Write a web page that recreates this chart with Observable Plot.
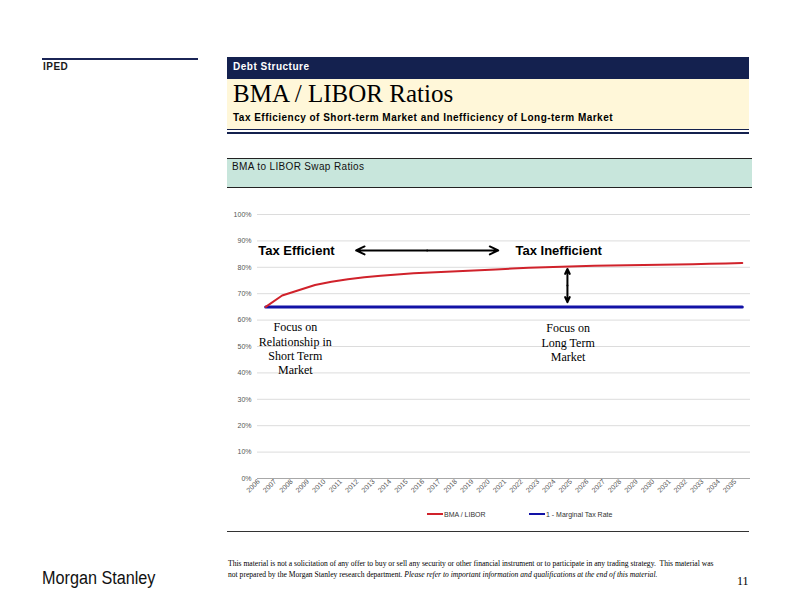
<!DOCTYPE html>
<html>
<head>
<meta charset="utf-8">
<script src="https://cdn.jsdelivr.net/npm/d3@7"></script>
<script src="https://cdn.jsdelivr.net/npm/@observablehq/plot@0.6"></script>
<style>
  html, body { margin: 0; padding: 0; background: #fff; }
  #page { position: relative; width: 792px; height: 612px; overflow: hidden; font-family: "Liberation Sans", Arial, sans-serif; }
  .abs { position: absolute; }
  .serif { font-family: "Liberation Serif", "Times New Roman", serif; }
</style>
</head>
<body>
<div id="page">
  <div class="abs" style="left:42px;top:58px;width:156px;height:2px;background:#1b2556;"></div>
  <div class="abs" style="left:43px;top:61px;font-size:10px;font-weight:bold;color:#1a1a1a;letter-spacing:0.5px;">IPED</div>

  <div class="abs" style="left:227px;top:57px;width:522px;height:22px;background:#14214f;"></div>
  <div class="abs" style="left:233px;top:61px;font-size:10px;font-weight:bold;color:#fff;letter-spacing:0.5px;">Debt Structure</div>
  <div class="abs" style="left:227px;top:79px;width:522px;height:50px;background:#fff7d9;"></div>
  <div class="abs serif" style="left:233px;top:80px;font-size:25px;color:#000;white-space:nowrap;">BMA / LIBOR Ratios</div>
  <div class="abs" style="left:233px;top:112px;font-size:10px;font-weight:bold;color:#000;white-space:nowrap;letter-spacing:0.48px;">Tax Efficiency of Short-term Market and Inefficiency of Long-term Market</div>
  <div class="abs" style="left:227px;top:129px;width:522px;height:1px;background:#14214f;"></div>
  <div class="abs" style="left:227px;top:132px;width:522px;height:2px;background:#14214f;"></div>

  <div class="abs" style="left:227px;top:158px;width:525px;height:28px;background:#c8e6dc;border-top:1px solid #222;border-bottom:1px solid #222;"></div>
  <div class="abs" style="left:232px;top:161px;font-size:10px;color:#111;white-space:nowrap;letter-spacing:0.35px;">BMA to LIBOR Swap Ratios</div>

  <div id="chart" class="abs" style="left:227px;top:200px;"></div>

  <div id="legend" class="abs" style="left:0;top:508px;width:792px;height:12px;font-size:7px;color:#333;"></div>
  <div class="abs" style="left:227px;top:531px;width:522px;height:1px;background:#333;"></div>

  <div class="abs" style="left:42px;top:568px;font-size:18px;color:#111;white-space:nowrap;transform:scaleX(0.9);transform-origin:left top;">Morgan Stanley</div>
  <div class="abs serif" style="left:228px;top:558px;font-size:7.6px;line-height:11px;color:#000;white-space:nowrap;">This material is not a solicitation of any offer to buy or sell any security or other financial instrument or to participate in any trading strategy.&nbsp; This material was<br>not prepared by the Morgan Stanley research department. <i>Please refer to important information and qualifications at the end of this material.</i></div>
  <div class="abs serif" style="left:737px;top:574px;font-size:12px;color:#000;">11</div>
</div>
<script>
// ---- data ----
const years = [2006, 2007, 2008, 2009, 2010, 2011, 2012, 2013, 2014, 2015,
               2016, 2017, 2018, 2019, 2020, 2021, 2022, 2023, 2024, 2025,
               2026, 2027, 2028, 2029, 2030, 2031, 2032, 2033, 2034, 2035];
const bmaLibor = [0.650, 0.693, 0.713, 0.733, 0.745, 0.755, 0.762, 0.768, 0.773, 0.777,
                  0.780, 0.783, 0.786, 0.789, 0.792, 0.795, 0.798, 0.800, 0.802, 0.804,
                  0.806, 0.807, 0.808, 0.809, 0.810, 0.811, 0.812, 0.813, 0.814, 0.816];
const oneMinusTaxRate = [0.65, 0.65, 0.65, 0.65, 0.65, 0.65, 0.65, 0.65, 0.65, 0.65,
                         0.65, 0.65, 0.65, 0.65, 0.65, 0.65, 0.65, 0.65, 0.65, 0.65,
                         0.65, 0.65, 0.65, 0.65, 0.65, 0.65, 0.65, 0.65, 0.65, 0.65];
const yTicks = [0, 0.1, 0.2, 0.3, 0.4, 0.5, 0.6, 0.7, 0.8, 0.9, 1.0];
const seriesNames = ["BMA / LIBOR", "1 - Marginal Tax Rate"];
const seriesColors = ["#d0222b", "#1212a6"];

// annotations (in data coordinates)
const headLabels = [
  {text: "Tax Efficient", year: 2005.55, value: 0.864},
  {text: "Tax Inefficient", year: 2021.2, value: 0.864}
];
const noteLabels = [
  {text: "Focus on\nRelationship in\nShort Term\nMarket", year: 2007.8, value: 0.494},
  {text: "Focus on\nLong Term\nMarket", year: 2024.4, value: 0.517}
];
const doubleArrows = [
  {x1: 2011.5, y1: 0.864, x2: 2020.15, y2: 0.864},
  {x1: 2024.36, y1: 0.794, x2: 2024.36, y2: 0.668}
];

// ---- tables ----
const rows = years.map((y, i) => ({year: y, value: bmaLibor[i], series: seriesNames[0]}));
const rows2 = years.map((y, i) => ({year: y, value: oneMinusTaxRate[i], series: seriesNames[1]}));
// each double-headed arrow drawn as two arrows from its midpoint outward
const halfArrows = doubleArrows.flatMap(a => {
  const mx = (a.x1 + a.x2) / 2, my = (a.y1 + a.y2) / 2;
  return [{x1: mx, y1: my, x2: a.x1, y2: a.y1}, {x1: mx, y1: my, x2: a.x2, y2: a.y2}];
});

const chart = Plot.plot({
  width: 523,
  height: 305,
  marginLeft: 30,
  marginRight: 0,
  marginTop: 14,
  marginBottom: 27,
  style: {fontFamily: "Liberation Sans, Arial, sans-serif", background: "transparent", overflow: "visible"},
  x: {type: "linear", domain: [2005.5, 2035.5]},
  y: {domain: [0, 1]},
  marks: [
    Plot.ruleY(yTicks.filter(d => d > 0), {stroke: "#dcdcdc", strokeWidth: 1}),
    Plot.ruleY([0], {stroke: "#a8a8a8", strokeWidth: 1}),
    Plot.axisY({ticks: yTicks, tickFormat: d3.format(".0%"), tickSize: 0, tickPadding: 6, fontSize: 7, fill: "#555", label: null}),
    Plot.axisX({ticks: years, tickFormat: d => String(d), tickRotate: -45, tickSize: 0, tickPadding: 2, dx: -7, fontSize: 7, fill: "#555", label: null}),
    Plot.line(rows2, {x: "year", y: "value", stroke: seriesColors[1], strokeWidth: 3}),
    Plot.line(rows, {x: "year", y: "value", stroke: seriesColors[0], strokeWidth: 2}),
    Plot.text(headLabels, {x: "year", y: "value", text: "text", textAnchor: "start", fontSize: 13, fontWeight: "bold", fill: "#000"}),
    Plot.text(noteLabels, {x: "year", y: "value", text: "text", textAnchor: "middle", lineAnchor: "middle", lineHeight: 1.2, fontSize: 12, fill: "#000", fontFamily: "Liberation Serif, Times New Roman, serif"}),
    Plot.arrow(halfArrows, {x1: "x1", y1: "y1", x2: "x2", y2: "y2", stroke: "#000", strokeWidth: 2, headLength: 7, headAngle: 50})
  ]
});
document.getElementById("chart").appendChild(chart);

// legend
const legend = document.getElementById("legend");
const legendLeft = [427, 529];
seriesNames.forEach((name, i) => {
  const item = document.createElement("div");
  item.style.cssText = `position:absolute;left:${legendLeft[i]}px;top:0;white-space:nowrap;display:flex;align-items:center;height:12px;`;
  item.innerHTML = `<span style="display:inline-block;width:16px;height:2.5px;background:${seriesColors[i]};margin-right:1px;"></span><span>${name}</span>`;
  legend.appendChild(item);
});
</script>
</body>
</html>
